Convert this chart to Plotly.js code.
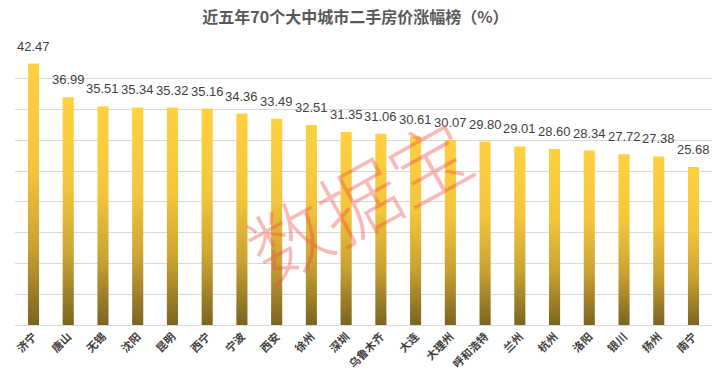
<!DOCTYPE html>
<html>
<head>
<meta charset="utf-8">
<script src="https://cdn.plot.ly/plotly-3.0.1.min.js"></script>
<style>html,body{margin:0;padding:0;background:#fff;}</style>
</head>
<body>
<div id="chart" style="width:721px;height:384px;"></div>
<script>
const cities = ["济宁","唐山","无锡","沈阳","昆明","西宁","宁波","西安","徐州","深圳","乌鲁木齐","大连","大理州","呼和浩特","兰州","杭州","洛阳","银川","扬州","南宁"];
const growth = [42.47,36.99,35.51,35.34,35.32,35.16,34.36,33.49,32.51,31.35,31.06,30.61,30.07,29.80,29.01,28.60,28.34,27.72,27.38,25.68];
const titleText = "近五年70个大中城市二手房价涨幅榜（%）";
const watermark = "数据宝";

const labelAnnotations = cities.map((c, i) => ({
  x: c, y: growth[i], xref: 'x', yref: 'y',
  text: growth[i].toFixed(2), showarrow: false,
  yanchor: 'bottom', yshift: 8,
  font: {family: 'Liberation Sans, Arial, sans-serif', size: 13, color: '#404040'}
}));

const data = [{
  type: 'bar', x: cities, y: growth,
  marker: {color: '#F5C73D', line: {width: 0}},
  hoverinfo: 'none'
}];

const layout = {
  width: 721, height: 384,
  margin: {l: 15, r: 9, t: 48, b: 59},
  paper_bgcolor: '#ffffff', plot_bgcolor: '#ffffff',
  bargap: 0.68,
  showlegend: false,
  title: {text: '<b>' + titleText + '</b>', x: 0.493, xanchor: 'center', y: 0.955, yanchor: 'middle',
    font: {family: 'Noto Sans CJK SC, sans-serif', size: 16, color: '#595959'}},
  xaxis: {
    type: 'category', tickangle: -45, showgrid: false,
    showline: true, linecolor: '#d9d9d9', linewidth: 1,
    ticks: '', tickfont: {family: 'Noto Sans CJK SC, sans-serif', size: 11, color: '#404040', weight: 'bold'},
    automargin: false
  },
  yaxis: {
    range: [0, 45], dtick: 5, showgrid: true, gridcolor: '#d9d9d9', gridwidth: 1,
    showticklabels: false, zeroline: false, ticks: ''
  },
  annotations: labelAnnotations.concat([{
    xref: 'paper', yref: 'paper', x: 0.49, y: 0.46,
    text: watermark, showarrow: false, textangle: -29,
    font: {family: 'Noto Sans CJK SC, sans-serif', size: 80, color: 'rgba(238,70,70,0.38)', weight: 300}
  }])
};

Plotly.newPlot('chart', data, layout, {displayModeBar: false, staticPlot: true}).then(function(gd){
  const svg = gd.querySelector('svg.main-svg');
  const ns = 'http://www.w3.org/2000/svg';
  let defs = svg.querySelector('defs');
  if (!defs) { defs = document.createElementNS(ns, 'defs'); svg.insertBefore(defs, svg.firstChild); }
  const lg = document.createElementNS(ns, 'linearGradient');
  lg.setAttribute('id', 'barGrad');
  lg.setAttribute('x1', '0'); lg.setAttribute('y1', '0');
  lg.setAttribute('x2', '0'); lg.setAttribute('y2', '1');
  [['0', '#FFD140'], ['0.4', '#F3C53C'], ['0.7', '#C9A232'], ['1', '#7C6421']].forEach(function(s){
    const st = document.createElementNS(ns, 'stop');
    st.setAttribute('offset', s[0]); st.setAttribute('stop-color', s[1]);
    lg.appendChild(st);
  });
  defs.appendChild(lg);
  gd.querySelectorAll('.bars .point path').forEach(function(p){
    p.style.fill = 'url(#barGrad)';
  });
});
</script>
</body>
</html>
